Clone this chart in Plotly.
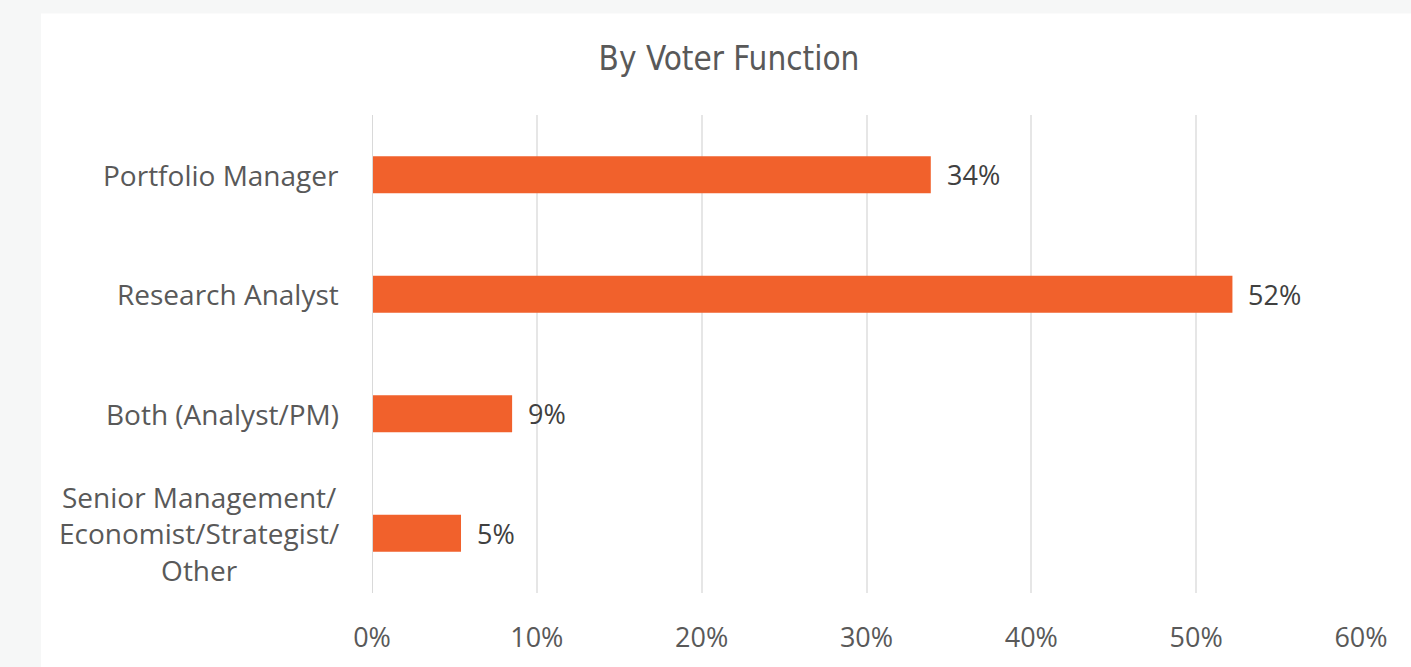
import plotly.graph_objects as go

categories = ["Portfolio Manager", "Research Analyst", "Both (Analyst/PM)",
              "Senior Management/<br>Economist/Strategist/<br>Other"]
values = [33.9, 52.2, 8.5, 5.4]
labels = ["34%", "52%", "9%", "5%"]
tick_vals = [0, 10, 20, 30, 40, 50, 60]
tick_text = ["0%", "10%", "20%", "30%", "40%", "50%", "60%"]

W, H = 1411, 667
L, R, T, B = 372, 50, 115, 72
pw, ph = W - L - R, H - T - B

fig = go.Figure()
fig.add_trace(go.Bar(
    x=values, y=categories, orientation="h",
    marker=dict(color="#F1612C", line=dict(width=0)),
    hoverinfo="skip",
))

annotations = []
for c in categories:
    annotations.append(dict(
        x=0, xref="paper", y=c, yref="y", xanchor="right", yanchor="middle",
        xshift=-31, text=c, showarrow=False, align="center",
        font=dict(family="Open Sans", size=28, color="#595959"),
    ))
for c, v, t in zip(categories, values, labels):
    annotations.append(dict(
        x=v, xref="x", y=c, yref="y", xanchor="left", yanchor="middle",
        xshift=14, text=t, showarrow=False,
        font=dict(family="Open Sans", size=27, color="#404040"),
    ))

fig.update_layout(
    width=W, height=H,
    margin=dict(l=L, r=R, t=T, b=B),
    paper_bgcolor="#F6F7F7",
    plot_bgcolor="rgba(0,0,0,0)",
    bargap=0.69,
    showlegend=False,
    title=dict(
        text="By Voter Function",
        x=729 / W, xanchor="center", xref="container",
        y=1 - 58 / H, yanchor="middle", yref="container",
        font=dict(family="DejaVu Sans Condensed", size=33, color="#595959"),
    ),
    xaxis=dict(
        range=[0, 60], tickvals=tick_vals, ticktext=tick_text,
        showgrid=True, gridcolor="#E6E6E6", gridwidth=1.5,
        zeroline=False, showline=False, ticks="",
        ticklabelstandoff=26,
        tickfont=dict(family="Open Sans", size=27, color="#595959"),
        fixedrange=True,
    ),
    yaxis=dict(
        autorange="reversed", showticklabels=False, showgrid=False,
        zeroline=False, showline=False, ticks="", fixedrange=True,
    ),
    shapes=[
        dict(type="rect", xref="paper", yref="paper", layer="below",
             x0=(41 - L) / pw, x1=(W + 5 - L) / pw,
             y0=-(H + 5 - T - ph) / ph, y1=(H - B - 13) / ph,
             fillcolor="#FFFFFF", line=dict(width=0)),
        dict(type="line", xref="x", yref="paper", x0=0, x1=0, y0=0, y1=1,
             line=dict(color="#D9D9D9", width=2), layer="above"),
    ],
    annotations=annotations,
)

fig.write_html(
    "out.html",
    config={"displayModeBar": False},
    post_script="document.body.style.margin='0';document.body.style.background='#F6F7F7';",
)
